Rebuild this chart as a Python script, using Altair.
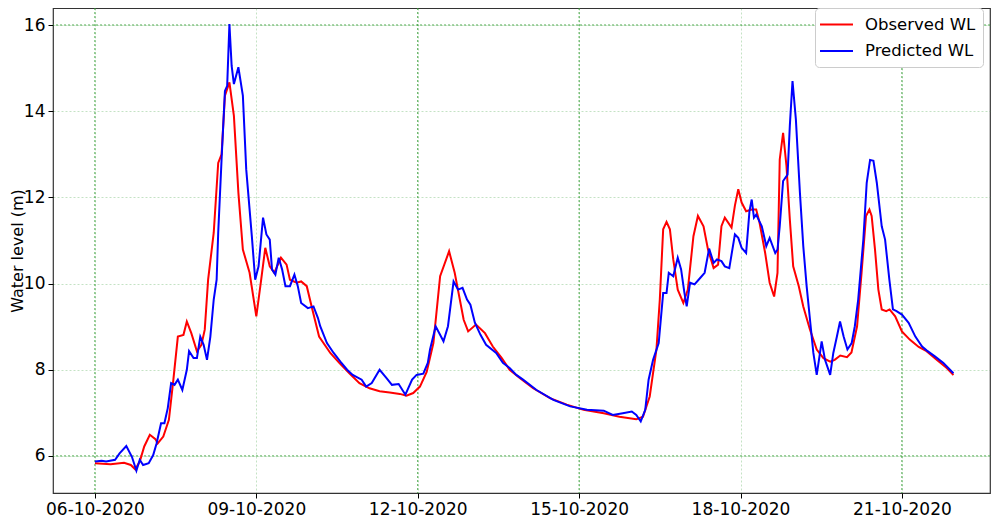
import altair as alt
import pandas as pd

# ---- data (hours after 06-10-2020 00:00, water level in m)
obs_hours = [0, 7, 13, 16, 18, 20, 22, 24.5, 27, 28, 30.5, 33, 35, 37, 39.5, 41, 43, 45.5, 47.5, 49,
             50.5, 53, 55, 56.5, 58, 60, 62, 64, 66, 69, 72, 74, 76, 78, 80, 83, 85.5, 87, 90, 92,
             94.5, 97, 100, 105, 109, 113.5, 118, 122.5, 127, 131.5, 136, 139, 142, 145, 148, 151,
             154, 158, 160.5, 164.5, 166.5, 170, 174, 177.5, 181.5, 185, 189.5, 195.5, 203, 210.5,
             218, 227, 234, 241.5, 244.5, 247.5, 250.5, 252, 253.5, 255, 256.5, 258, 260, 262.5,
             264.5, 267, 269, 271.5, 273.5, 276, 278, 279.5, 281, 284, 285.5, 287, 288.5, 290.5,
             293, 295, 296.5, 299, 301, 303, 304.5, 305.5, 307, 308.5, 310, 311.5, 314, 316, 319,
             322, 325, 328, 330, 332.5, 335.5, 337.5, 340, 342, 344, 345.5, 346.5, 348, 349.5, 351,
             353, 354.5, 357, 360, 363.5, 367.5, 371, 375.5, 380, 383]
obs_level = [5.83, 5.81, 5.84, 5.79, 5.69, 5.87, 6.22, 6.49, 6.39, 6.29, 6.45, 6.84, 7.77, 8.77, 8.81,
             9.12, 8.85, 8.43, 8.58, 8.93, 10.09, 11.18, 12.80, 13.0, 14.36, 14.67, 13.89, 12.11,
             10.79, 10.25, 9.24, 10.02, 10.83, 10.40, 10.25, 10.60, 10.44, 10.09, 10.02, 10.05,
             9.94, 9.40, 8.77, 8.39, 8.16, 7.92, 7.69, 7.57, 7.50, 7.47, 7.44, 7.40, 7.46, 7.61,
             7.95, 8.62, 10.17, 10.75, 10.25, 9.16, 8.89, 9.05, 8.85, 8.54, 8.27, 8.0, 7.81, 7.57,
             7.34, 7.19, 7.07, 6.99, 6.91, 6.85, 6.91, 7.38, 8.47, 9.63, 11.26, 11.43, 11.26,
             10.56, 9.86, 9.55, 9.86, 11.10, 11.57, 11.33, 10.79, 10.36, 10.44, 11.33, 11.53,
             11.30, 11.81, 12.19, 11.88, 11.68, 11.72, 11.72, 11.41, 10.71, 10.02, 9.70, 10.25,
             12.88, 13.50, 12.73, 11.49, 10.40, 9.94, 9.47, 8.93, 8.47, 8.27, 8.19, 8.23, 8.33,
             8.29, 8.40, 9.01, 10.25, 11.57, 11.72, 11.57, 10.79, 9.86, 9.40, 9.36, 9.40, 9.24,
             8.89, 8.70, 8.53, 8.43, 8.23, 8.04, 7.88]

pred_hours = [0, 3, 5, 9, 11, 14, 16.5, 18.5, 20, 21.5, 24, 26, 27.5, 29.5, 31, 32.5, 34, 35.5, 37, 39,
              41, 42, 44, 45.5, 47, 48.5, 50, 51.5, 53, 54.3, 55, 56.5, 58, 59, 60, 61, 62, 64, 66,
              67.5, 70, 71.5, 73, 75, 76.5, 78, 79, 80.5, 82, 83.5, 85, 87, 89, 90.5, 92, 95, 97.5,
              99.5, 100.5, 103.5, 106.5, 109.5, 112.5, 115, 119, 121, 123.5, 127, 130, 132.5,
              135.5, 138.5, 141.5, 143.5, 146.5, 148.5, 149.5, 152, 155.5, 157.5, 160, 162, 164,
              166, 167.5, 169.5, 172, 174.5, 179, 182, 185, 188, 191, 197, 204.5, 212, 219.5, 227,
              231, 235.5, 239.5, 241.5, 243.5, 245.5, 247, 249, 251.5, 253.5, 255, 256, 258, 260,
              261.5, 263, 264, 265.5, 267.5, 270, 272, 274, 276, 277.5, 279.5, 281, 283, 285.5,
              287, 288.5, 290.5, 292, 293, 294, 295, 297.5, 299.5, 301, 303.5, 304.5, 305.5, 307,
              309, 310, 311.2, 312.7, 314.5, 316, 317.5, 319, 320.5, 322, 323, 324.2, 325.7, 328,
              329.4, 331, 332.4, 334, 335.7, 337.6, 339, 340.5, 342.8, 344.3, 345.8, 347.3, 348.8,
              351, 352.5, 354.4, 356, 357.6, 360, 363, 366, 369, 371, 374.7, 378.4, 383]
pred_level = [5.87, 5.89, 5.87, 5.91, 6.06, 6.23, 5.98, 5.66, 5.91, 5.79, 5.83, 6.02, 6.29, 6.76, 6.76,
              7.11, 7.69, 7.65, 7.77, 7.53, 8.0, 8.43, 8.27, 8.27, 8.77, 8.58, 8.23, 8.77, 9.63,
              10.09, 11.18, 12.88, 14.47, 14.59, 16.02, 15.05, 14.63, 15.02, 14.36, 12.65, 11.10,
              10.09, 10.40, 11.53, 11.14, 11.02, 10.33, 10.21, 10.60, 10.33, 9.94, 9.94, 10.21,
              9.94, 9.55, 9.43, 9.47, 9.20, 9.01, 8.62, 8.39, 8.19, 8.0, 7.88, 7.77, 7.61, 7.69,
              8.0, 7.81, 7.65, 7.67, 7.42, 7.77, 7.88, 7.91, 8.16, 8.47, 9.01, 8.66, 9.01, 10.05,
              9.86, 9.90, 9.63, 9.51, 9.09, 8.81, 8.58, 8.39, 8.16, 8.04, 7.88, 7.77, 7.53, 7.30,
              7.15, 7.07, 7.05, 6.95, 6.99, 7.03, 6.95, 6.80, 7.07, 7.77, 8.23, 8.62, 9.78, 9.78,
              10.25, 10.17, 10.60, 10.33, 9.78, 9.47, 10.02, 9.98, 10.13, 10.25, 10.81, 10.48,
              10.56, 10.52, 10.40, 10.36, 11.14, 11.06, 10.83, 10.71, 11.68, 11.95, 11.53, 11.60,
              11.33, 10.87, 11.06, 10.71, 10.79, 11.33, 12.38, 12.53, 13.66, 14.70, 13.81, 12.11,
              10.87, 9.94, 9.16, 8.39, 7.88, 8.23, 8.66, 8.23, 7.88, 8.39, 8.77, 9.12, 8.77, 8.47,
              8.62, 9.01, 9.63, 11.02, 12.34, 12.87, 12.85, 12.34, 11.33, 11.02, 10.09, 9.40, 9.36,
              9.28, 9.09, 8.77, 8.54, 8.45, 8.31, 8.16, 7.92]

series_names = ["Observed WL", "Predicted WL"]
series_colors = ["#ff0000", "#0000ff"]
tick_days = [6, 9, 12, 15, 18, 21]
y_ticks = [6, 8, 10, 12, 14, 16]
strong_grid_days = [6, 12, 15, 21]
strong_grid_levels = [6, 16]

start = pd.Timestamp("2020-10-06 00:00")
obs = pd.DataFrame({"time": start + pd.to_timedelta(obs_hours, unit="h"),
                    "level": obs_level, "series": series_names[0]})
pred = pd.DataFrame({"time": start + pd.to_timedelta(pred_hours, unit="h"),
                     "level": pred_level, "series": series_names[1]})
df = pd.concat([obs, pred], ignore_index=True)

vgrid = pd.DataFrame({"time": [pd.Timestamp(2020, 10, d) for d in strong_grid_days]})
hgrid = pd.DataFrame({"level": strong_grid_levels})

x_domain = [alt.DateTime(year=2020, month=10, date=5, hours=5, minutes=18),
            alt.DateTime(year=2020, month=10, date=22, hours=15, minutes=18)]
y_domain = [5.14, 16.395]

x_scale = alt.Scale(domain=x_domain)
y_scale = alt.Scale(domain=y_domain, nice=False, zero=False)

grid_color = "#3aa03a"

lines = alt.Chart(df).mark_line(strokeWidth=2, clip=True).encode(
    x=alt.X("time:T", scale=x_scale,
            axis=alt.Axis(values=[alt.DateTime(year=2020, month=10, date=d) for d in tick_days],
                          format="%d-%m-%Y", title=None, labelOverlap=False, labelFlush=False,
                          grid=True, gridColor=grid_color, gridOpacity=0.3, gridDash=[2, 2])),
    y=alt.Y("level:Q", scale=y_scale,
            axis=alt.Axis(values=y_ticks, title="Water level (m)", grid=True,
                          titleX=-28, titleBaseline="bottom",
                          gridColor=grid_color, gridOpacity=0.3, gridDash=[2, 2])),
    color=alt.Color("series:N",
                    scale=alt.Scale(domain=series_names, range=series_colors),
                    legend=alt.Legend(title=None, orient="none", legendX=762, legendY=0,
                                      symbolType="M-2,0H2", symbolStrokeWidth=2, symbolSize=272,
                                      symbolOffset=5,
                                      labelFontSize=16.5, labelFont="DejaVu Sans",
                                      labelColor="#000000", rowPadding=8.5, padding=7,
                                      fillColor="white", strokeColor="#cccccc",
                                      cornerRadius=4, labelOffset=19)),
    detail="series:N",
)

vrules = alt.Chart(vgrid).mark_rule(color=grid_color, strokeWidth=1, strokeDash=[2, 2],
                                    opacity=0.9).encode(x=alt.X("time:T", scale=x_scale))
hrules = alt.Chart(hgrid).mark_rule(color=grid_color, strokeWidth=1, strokeDash=[2, 2],
                                    opacity=0.9).encode(y=alt.Y("level:Q", scale=y_scale))

chart = alt.layer(vrules, hrules, lines).properties(
    width=937, height=485,
    autosize=alt.AutoSizeParams(type="none"),
    padding={"left": 45, "top": 0, "right": 2, "bottom": 26},
).configure_axis(
    domain=False,
    tickColor="#000000", tickSize=5, tickWidth=1,
    labelFont="DejaVu Sans", labelFontSize=17, labelColor="#000000", labelPadding=3,
    titleFont="DejaVu Sans", titleFontSize=16, titleFontWeight="normal", titleColor="#000000",
).configure_view(stroke="#333333", strokeWidth=1.2)

chart.save("out.html", embed_options={"renderer": "svg", "actions": False})
